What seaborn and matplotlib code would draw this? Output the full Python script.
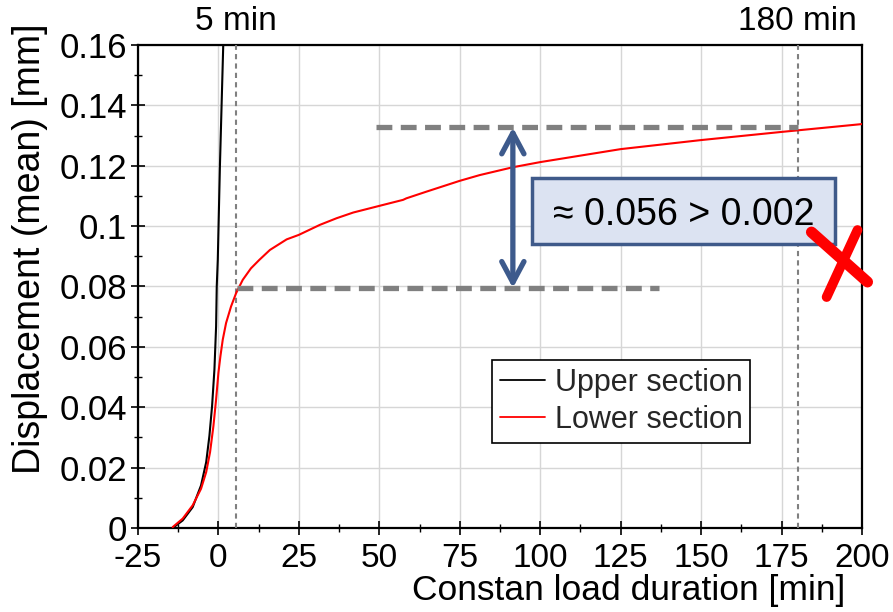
import numpy as np
import pandas as pd
import seaborn as sns
import matplotlib.pyplot as plt
from matplotlib.ticker import MultipleLocator
from matplotlib.patches import Rectangle
import matplotlib.patheffects as pe

# data
upper_x = [-14.2, -11.1, -8.0, -5.4, -3.8, -2.8, -1.97, -1.24, -0.72, -0.52, -0.2, 0.46, 1.5, 1.8]
upper_y = [0.0, 0.0025, 0.0069, 0.0141, 0.0218, 0.0305, 0.0404, 0.0525, 0.0668, 0.080, 0.0888,
           0.1197, 0.160, 0.170]

lower_x = [-14.2, -11.1, -8.0, -5.4, -3.8, -2.6, -1.55, -0.72, 0.0, 0.62, 1.35, 2.38, 3.93,
           5.5, 7.56, 10.1, 12.7, 16.0, 21.2, 25.0, 31.5, 36.7, 41.9, 50.0, 57.4, 58.4,
           64.6, 75.0, 81.2, 91.5, 100.0, 125.0, 150.0, 175.0, 200.0]
lower_y = [0.0003, 0.0031, 0.0075, 0.0130, 0.0185, 0.0251, 0.0338, 0.0426, 0.0514, 0.0569,
           0.0624, 0.0679, 0.0734, 0.0778, 0.0822, 0.0860, 0.0888, 0.0921, 0.0956, 0.0971,
           0.1004, 0.1026, 0.1045, 0.1067, 0.1087, 0.1092, 0.1114, 0.1150, 0.1169, 0.1195,
           0.1212, 0.1255, 0.1285, 0.1312, 0.1338]

# annotation values
marker_times = [5.5, 180]
marker_labels = ["5 min", "180 min"]
level_low = 0.0795
level_high = 0.1327
low_span = [5.7, 137]
high_span = [49, 180]
arrow_x = 91.5
box_text = "\u2248 0.056 > 0.002"
box_x = [97.6, 191.5]
box_y = [0.0940, 0.1159]

df = pd.concat([
    pd.DataFrame({"t": upper_x, "d": upper_y, "Section": "Upper section"}),
    pd.DataFrame({"t": lower_x, "d": lower_y, "Section": "Lower section"}),
])

sns.set_theme(style="white")
plt.rcParams['font.family'] = ['Liberation Sans', 'DejaVu Sans']
plt.rcParams['axes.unicode_minus'] = False

fig, ax = plt.subplots(figsize=(8.93, 6.12), dpi=100)
fig.subplots_adjust(left=0.1545, right=0.9653, top=0.9265, bottom=0.1373)

sns.lineplot(data=df, x="t", y="d", hue="Section", palette=["black", "red"],
             sort=False, estimator=None, linewidth=1.5, ax=ax, zorder=4)

ax.set_xlim(-25, 200)
ax.set_ylim(0, 0.16)
ax.xaxis.set_major_locator(MultipleLocator(25))
ax.xaxis.set_minor_locator(MultipleLocator(12.5))
ax.yaxis.set_major_locator(MultipleLocator(0.02))
ax.yaxis.set_minor_locator(MultipleLocator(0.01))
ax.xaxis.set_major_formatter(plt.FuncFormatter(lambda v, p: "%d" % round(v)))
ax.yaxis.set_major_formatter(plt.FuncFormatter(lambda v, p: "0" if abs(v) < 1e-9 else ("%g" % round(v, 3))))
ax.grid(True, which="major", color="#d6d6d6", linewidth=1.0)
ax.tick_params(which="major", direction="inout", length=10, width=1.2, labelsize=25, color="black",
               labelcolor="black", left=True, bottom=True, pad=3)
ax.tick_params(axis="x", which="major", labelsize=24, pad=6)
ax.tick_params(which="minor", direction="inout", length=6, width=1.0, color="black", left=True, bottom=True)
for s in ax.spines.values():
    s.set_color("black")
    s.set_linewidth(1.6)

ax.set_xlabel("Constan load duration [min]", fontsize=25.5, color="black")
ax.set_ylabel("Displacement (mean) [mm]", fontsize=27, color="black")
ax.xaxis.set_label_coords(0.677, -0.095)
ax.yaxis.set_label_coords(-0.124, 0.578)

# vertical dotted markers
for t, lab in zip(marker_times, marker_labels):
    ax.axvline(t, color="#808080", linewidth=1.5, linestyle=(0, (2.5, 2.0)), zorder=3)
    ax.text(t, 0.1625, lab, ha="center", va="bottom", fontsize=24, color="black")

# thick grey dashed levels
shadow = [pe.SimplePatchShadow(offset=(1.5, -1.5), alpha=0.25), pe.Normal()]
ax.plot(low_span, [level_low, level_low], color="#808080", linewidth=3.8,
        linestyle=(0, (3, 1.6)), zorder=5, path_effects=shadow)
ax.plot(high_span, [level_high, level_high], color="#808080", linewidth=3.8,
        linestyle=(0, (3, 1.6)), zorder=5, path_effects=shadow)

# double headed arrow
ax.annotate("", xy=(arrow_x, level_high), xytext=(arrow_x, level_low),
            arrowprops=dict(arrowstyle="<->,head_length=1.5,head_width=0.8", color="#3D5A8C",
                            lw=3.8, shrinkA=0, shrinkB=0, mutation_scale=10), zorder=6)

# text box
ax.add_patch(Rectangle((box_x[0], box_y[0]), box_x[1] - box_x[0], box_y[1] - box_y[0],
                       facecolor="#DCE3F2", edgecolor="#3F5A8A", linewidth=2.5, zorder=7))
ax.text(sum(box_x) / 2, sum(box_y) / 2, box_text, ha="center", va="center_baseline",
        fontsize=27, color="black", zorder=8)

# red cross
cross_a_x = [184.3, 201.7]
cross_a_y = [0.0980, 0.0815]
cross_b_x = [198.6, 189.0]
cross_b_y = [0.0987, 0.0765]
ax.plot(cross_a_x, cross_a_y, color="red", linewidth=8, solid_capstyle="round", clip_on=False, zorder=9)
ax.plot(cross_b_x, cross_b_y, color="red", linewidth=7, solid_capstyle="round", clip_on=False, zorder=9)

handles, labels = ax.get_legend_handles_labels()
leg = ax.legend(handles[:2], labels[:2], loc="upper left", bbox_to_anchor=(0.489, 0.348),
                fontsize=22, frameon=True, fancybox=False, edgecolor="black", framealpha=1,
                handlelength=1.5, handletextpad=0.3, borderpad=0.25, labelspacing=0.25,
                borderaxespad=0)
leg.get_frame().set_linewidth(1.2)
for h in leg.get_lines():
    h.set_linewidth(1.3)

fig.savefig("out.png", dpi=100)
